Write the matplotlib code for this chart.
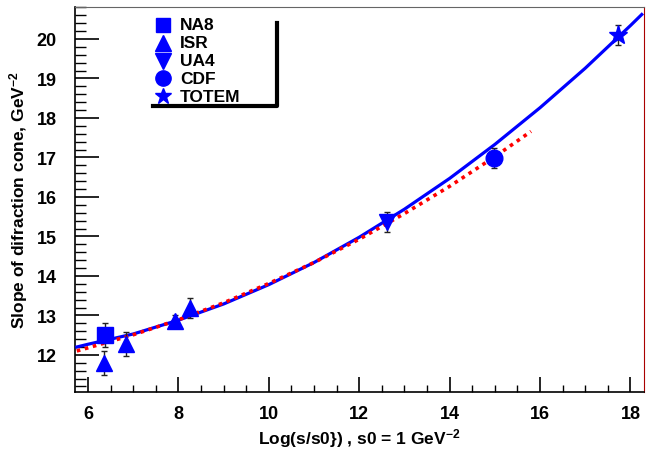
#==========================================================================
# Slope of diffraction cone vs log(s/s0)
#==========================================================================
import numpy as np
import matplotlib
matplotlib.use("Agg")
import matplotlib.pyplot as plt
from matplotlib.ticker import MultipleLocator

plt.rcParams['font.family'] = ['Liberation Sans', 'DejaVu Sans']
plt.rcParams['font.weight'] = 'bold'
plt.rcParams['mathtext.fontset'] = 'custom'
plt.rcParams['mathtext.rm'] = 'Liberation Sans:bold'
plt.rcParams['mathtext.default'] = 'rm'

#==========================================================================
# Data
#==========================================================================
na8_x, na8_y, na8_e = [6.37], [12.50], [0.30]
isr_x = [6.35, 6.84, 7.93, 8.26]
isr_y = [11.80, 12.28, 12.87, 13.18]
isr_e = [0.30, 0.30, 0.15, 0.25]
ua4_x, ua4_y, ua4_e = [12.61], [15.36], [0.25]
cdf_x, cdf_y, cdf_e = [14.99], [16.99], [0.25]
totem_x, totem_y, totem_e = [17.73], [20.10], [0.26]

# solid blue curve
fit_x = [5.75, 6, 7, 8, 9, 10, 11, 12, 13, 14, 15, 16, 17, 18, 18.25]
fit_y = [12.20, 12.27, 12.53, 12.88, 13.29, 13.78, 14.34, 14.98, 15.69,
         16.47, 17.33, 18.26, 19.26, 20.34, 20.62]

# dotted red curve
alt_x = [5.75, 6, 7, 8, 9, 10, 11, 12, 13, 14, 15, 15.8]
alt_y = [12.10, 12.18, 12.51, 12.89, 13.32, 13.81, 14.34, 14.93, 15.58,
         16.27, 17.02, 17.66]

#==========================================================================
# Plot
#==========================================================================
fig = plt.figure(figsize=(6.55, 4.52), dpi=100)
ax = fig.add_axes([0.1145, 0.1305, 0.8687, 0.8518])

blue = '#0000ff'
ax.plot(fit_x, fit_y, color=blue, lw=2.3, zorder=3)
ax.plot(alt_x, alt_y, color='#ff0000', lw=2.6, linestyle=(0, (1.0, 1.3)), zorder=3)

ekw = dict(fmt='none', ecolor='#222222', elinewidth=1.0, capsize=2.5, capthick=1.0, zorder=4)
for xs, ys, es in [(na8_x, na8_y, na8_e), (isr_x, isr_y, isr_e), (ua4_x, ua4_y, ua4_e),
                   (cdf_x, cdf_y, cdf_e), (totem_x, totem_y, totem_e)]:
    ax.errorbar(xs, ys, yerr=es, **ekw)

mk = [('s', na8_x, na8_y, 11), ('^', isr_x, isr_y, 12), ('v', ua4_x, ua4_y, 12),
      ('o', cdf_x, cdf_y, 12), ('*', totem_x, totem_y, 14)]
for m, xs, ys, s in mk:
    ax.plot(xs, ys, linestyle='none', marker=m, ms=s, color=blue, mec=blue, zorder=5)

ax.set_xlim(5.71, 18.3)
ax.set_ylim(11.06, 20.81)

ax.xaxis.set_major_locator(MultipleLocator(2))
ax.xaxis.set_minor_locator(MultipleLocator(0.5))
ax.yaxis.set_major_locator(MultipleLocator(1))
ax.yaxis.set_minor_locator(MultipleLocator(0.2))
ax.tick_params(axis='y', which='major', direction='in', length=17, width=1.2, pad=13, labelsize=13)
ax.tick_params(axis='y', which='minor', direction='in', length=8, width=1.0)
ax.tick_params(axis='x', which='major', direction='in', length=11, width=1.2, pad=9, labelsize=13)
ax.tick_params(axis='x', which='minor', direction='in', length=5, width=1.0)
for lab in ax.get_xticklabels() + ax.get_yticklabels():
    lab.set_fontweight('bold')

ax.spines['left'].set_linewidth(1.2)
ax.spines['bottom'].set_linewidth(1.2)
ax.spines['top'].set_color('#666666')
ax.spines['right'].set_color('#aa0000')

ax.set_xlabel('Log(s/s0}) , s0 = 1 GeV$^{-2}$', fontsize=12.5, fontweight='bold', labelpad=3)
ax.set_ylabel('Slope of difraction cone, GeV$^{-2}$', fontsize=12.5, fontweight='bold', labelpad=5)

# legend drawn ROOT style with shadow lines on right and bottom
names = ['NA8', 'ISR', 'UA4', 'CDF', 'TOTEM']
leg_m = [('s', 10), ('^', 11), ('v', 11), ('o', 11), ('*', 12)]
fig_w, fig_h = 655.0, 452.0
for i, (name, (m, s)) in enumerate(zip(names, leg_m)):
    ypix = 26 + i * 17.8
    fig.lines.append(plt.Line2D([163 / fig_w], [1 - ypix / fig_h], marker=m, ms=s,
                                color=blue, linestyle='none', transform=fig.transFigure))
    fig.text(180 / fig_w, 1 - ypix / fig_h, name, fontsize=12.5, fontweight='bold',
             va='center', ha='left')
fig.lines.append(plt.Line2D([153 / fig_w, 277 / fig_w, 277 / fig_w],
                            [1 - 107 / fig_h, 1 - 107 / fig_h, 1 - 24 / fig_h],
                            color='black', lw=3, transform=fig.transFigure))

fig.savefig('out.png', dpi=100)
